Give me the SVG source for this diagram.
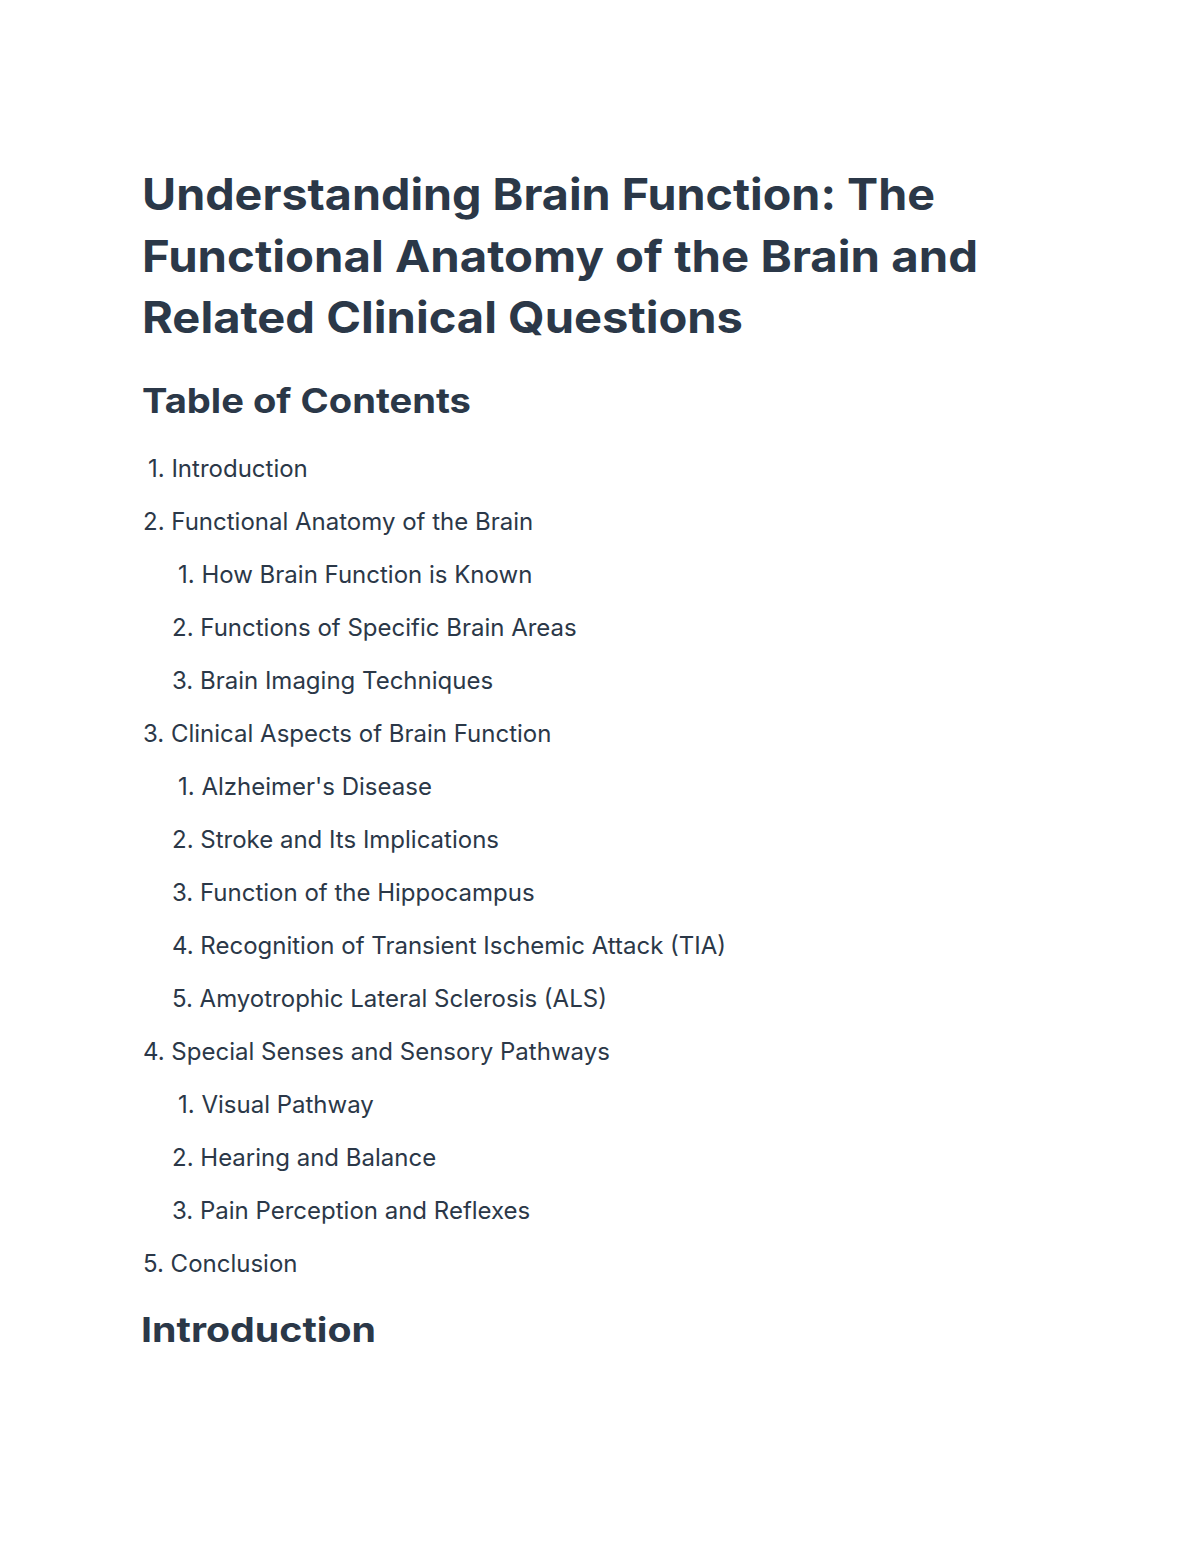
<svg xmlns="http://www.w3.org/2000/svg" width="1200" height="1553" viewBox="0 0 1200 1553">
<style>
text{font-family:Inter,"Liberation Sans",sans-serif;fill:#2b3848}
.t{font-size:44px;font-weight:700}
.h{font-size:34px;font-weight:700}
.i{font-size:24px;font-weight:400}
</style>
<rect width="1200" height="1553" fill="#fff"/>
<text class="t" x="142" y="210" textLength="793" lengthAdjust="spacingAndGlyphs">Understanding Brain Function: The</text>
<text class="t" x="142" y="272" textLength="836" lengthAdjust="spacingAndGlyphs">Functional Anatomy of the Brain and</text>
<text class="t" x="142" y="333" textLength="601" lengthAdjust="spacingAndGlyphs">Related Clinical Questions</text>
<text class="h" x="142" y="413" textLength="329" lengthAdjust="spacingAndGlyphs">Table of Contents</text>
<g class="i">
<text class="i" x="148" y="477">1. Introduction</text>
<text class="i" x="143" y="530">2. Functional Anatomy of the Brain</text>
<text class="i" x="178" y="583">1. How Brain Function is Known</text>
<text class="i" x="172" y="636">2. Functions of Specific Brain Areas</text>
<text class="i" x="172" y="689">3. Brain Imaging Techniques</text>
<text class="i" x="143" y="742">3. Clinical Aspects of Brain Function</text>
<text class="i" x="178" y="795">1. Alzheimer's Disease</text>
<text class="i" x="172" y="848">2. Stroke and Its Implications</text>
<text class="i" x="172" y="901">3. Function of the Hippocampus</text>
<text class="i" x="172" y="954">4. Recognition of Transient Ischemic Attack (TIA)</text>
<text class="i" x="172" y="1007">5. Amyotrophic Lateral Sclerosis (ALS)</text>
<text class="i" x="143" y="1060">4. Special Senses and Sensory Pathways</text>
<text class="i" x="178" y="1113">1. Visual Pathway</text>
<text class="i" x="172" y="1166">2. Hearing and Balance</text>
<text class="i" x="172" y="1219">3. Pain Perception and Reflexes</text>
<text class="i" x="143" y="1272">5. Conclusion</text>
</g>
<text class="h" x="141" y="1342" textLength="235" lengthAdjust="spacingAndGlyphs">Introduction</text>
</svg>
